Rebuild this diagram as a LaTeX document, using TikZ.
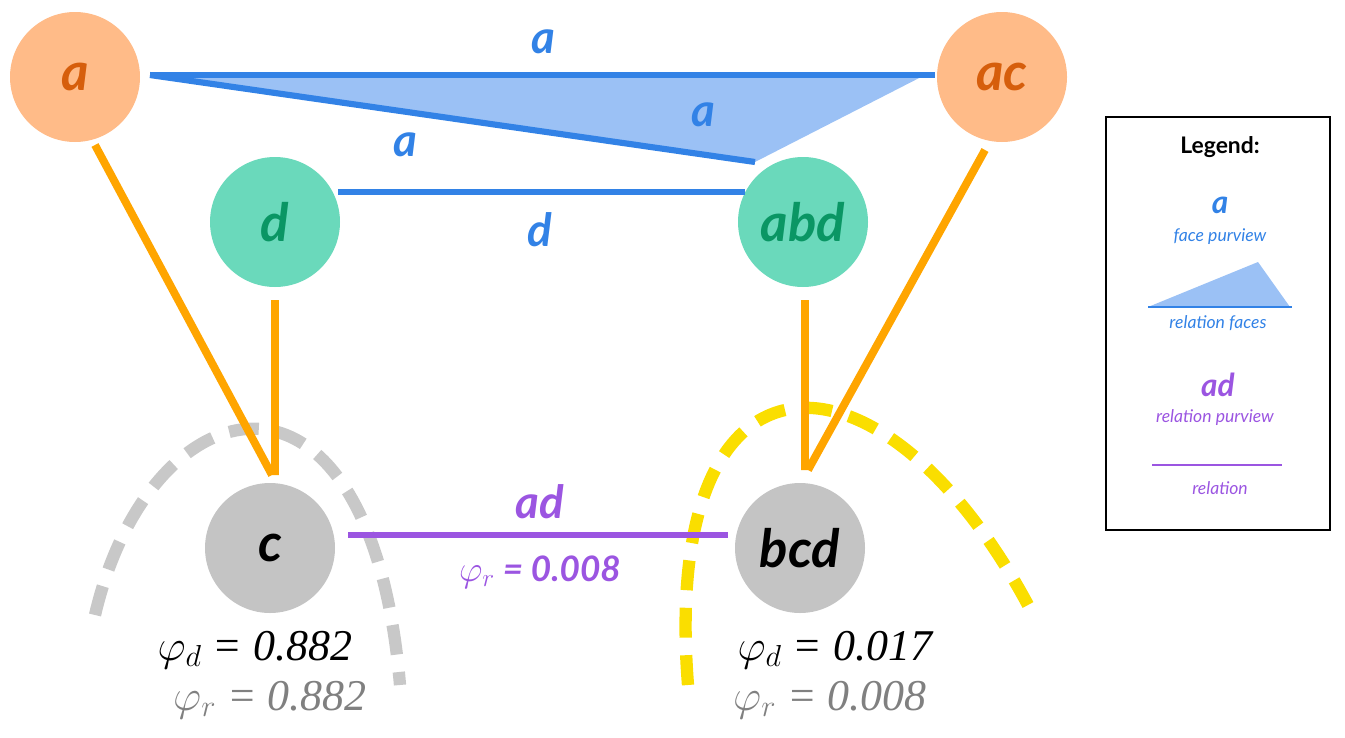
\documentclass[tikz,border=0pt]{standalone}
\usepackage{fontspec}
\setmainfont{Liberation Serif}
\setsansfont{Lato}
\begin{document}
\begin{tikzpicture}[x=0.02cm,y=-0.02cm,
  nd/.style={circle,minimum size=130*0.02cm,inner sep=0pt,font=\sffamily\bfseries\itshape\fontsize{30}{30}\selectfont},
  org/.style={nd,fill={rgb,255:red,255;green,187;blue,136},text={rgb,255:red,214;green,94;blue,12}},
  grn/.style={nd,fill={rgb,255:red,106;green,217;blue,187},text={rgb,255:red,10;green,150;blue,100}},
  gry/.style={nd,fill={rgb,255:red,196;green,196;blue,196},text=black},
  bl/.style={draw={rgb,255:red,50;green,130;blue,230},line width=3.5pt},
  bltxt/.style={text={rgb,255:red,50;green,130;blue,230},font=\sffamily\bfseries\itshape\fontsize{26}{26}\selectfont},
  orl/.style={draw={rgb,255:red,255;green,165;blue,0},line width=4.5pt},
  pu/.style={draw={rgb,255:red,155;green,85;blue,225},line width=3.5pt},
  putxt/.style={text={rgb,255:red,155;green,85;blue,225}},
  phi/.style={font=\itshape\fontsize{25}{25}\selectfont},
  lg/.style={font=\sffamily\itshape\fontsize{10}{10}\selectfont}]
\useasboundingbox (0,0) rectangle (1345,737);
\definecolor{bluefill}{RGB}{155,193,245}
% dashed arcs
\draw[line width=7pt,dash pattern=on 17pt off 10pt,color={rgb,255:red,200;green,200;blue,200}] (95,615) .. controls (150,380) and (370,330) .. (400,685);
\draw[line width=7pt,dash pattern=on 17pt off 10pt,color={rgb,255:red,250;green,222;blue,0}] (688,685) .. controls (660,330) and (880,330) .. (1028,605);
\node[org] (a) at (75,77) {a};
\node[org] (ac) at (1002,77) {ac};
\node[grn] (d) at (275,222) {d};
\node[grn] (abd) at (803,222) {abd};
\node[gry] (c) at (270,548) {c};
\node[gry] (bcd) at (800,548) {bcd};
% coordinates
\coordinate (t1) at (150,75); \coordinate (t2) at (925,75); \coordinate (t3) at (755,162);
\fill[bluefill] (t1) -- (t2) -- (t3) -- cycle;
\draw[bl] (t1) -- (935,75);
\draw[bl] (t1) -- (t3);
\draw[bl] (338,192) -- (745,192);
\node[bltxt] at (543,42) {a};
\node[bltxt] at (703,115) {a};
\node[bltxt] at (405,145) {a};
\node[bltxt] at (540,230) {d};
% orange
\draw[orl] (95,145) -- (272,475) (275,300) -- (275,475);
\draw[orl] (985,150) -- (808,470) (805,300) -- (805,470);
% purple
\draw[pu] (348,535) -- (728,535);
\node[putxt,font=\sffamily\bfseries\itshape\fontsize{26}{26}\selectfont] at (540,502) {ad};
\node[putxt,font=\sffamily\bfseries\itshape\fontsize{20}{20}\selectfont] at (540,572) {$\varphi_r$ = 0.008};
\node[phi] at (255,650) {$\varphi_d$ = 0.882};
\node[phi,text=gray] at (270,700) {$\varphi_r$ = 0.882};
\node[phi] at (835,650) {$\varphi_d$ = 0.017};
\node[phi,text=gray] at (830,700) {$\varphi_r$ = 0.008};
% legend
\node[draw,line width=0.7pt,minimum width=224*0.02cm,minimum height=413*0.02cm,inner sep=0pt] (lgbox) at (1218,323.5) {};
\node[font=\sffamily\bfseries\fontsize{13}{13}\selectfont] at (1220,147) {Legend:};
\node[bltxt,font=\sffamily\bfseries\itshape\fontsize{18}{18}\selectfont] at (1220,205) {a};
\node[lg,text={rgb,255:red,50;green,130;blue,230}] at (1220,237) {face purview};
\fill[bluefill] (1148,307) -- (1258,262) -- (1290,307) -- cycle;
\draw[bl,line width=1.5pt] (1148,307) -- (1292,307);
\node[lg,text={rgb,255:red,50;green,130;blue,230}] at (1218,323) {relation faces};
\node[putxt,font=\sffamily\bfseries\itshape\fontsize{18}{18}\selectfont] at (1218,385) {ad};
\node[lg,putxt] at (1215,418) {relation purview};
\draw[pu,line width=1.5pt] (1152,465) -- (1282,465);
\node[lg,putxt] at (1220,488) {relation};
\end{tikzpicture}
\end{document}
